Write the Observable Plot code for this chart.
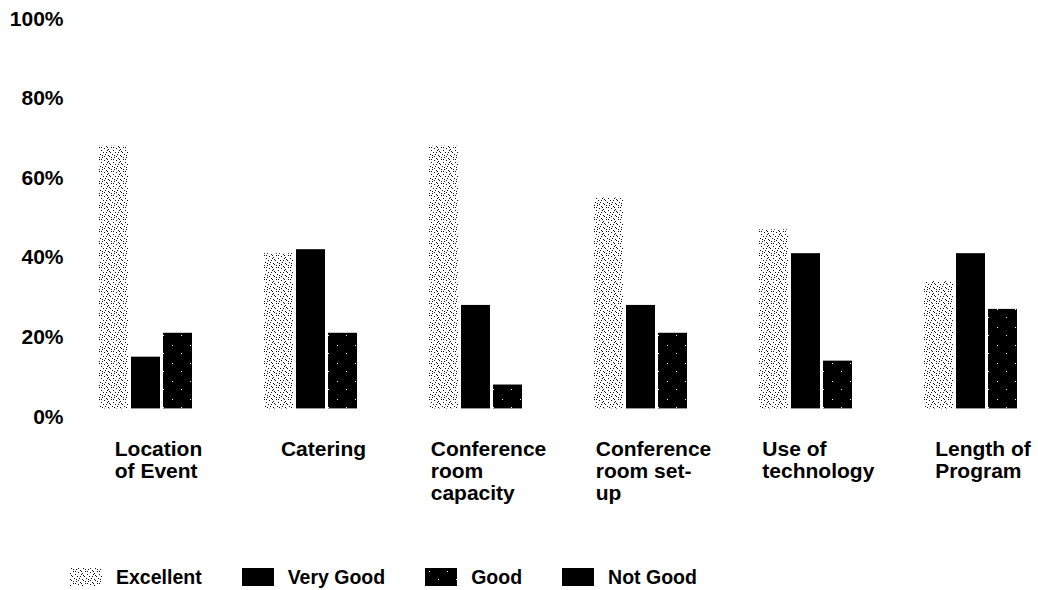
<!DOCTYPE html>
<html><head><meta charset="utf-8">
<script src="https://cdn.jsdelivr.net/npm/d3@7"></script>
<script src="https://cdn.jsdelivr.net/npm/@observablehq/plot@0.6"></script>
<style>
html,body{margin:0;background:#fff;font-family:"Liberation Sans",Arial,sans-serif;color:#000;overflow:hidden;}
#legend{display:flex;align-items:center;height:50px;padding-left:70px;font-weight:bold;font-size:19.5px;}
.item{display:flex;align-items:center;margin-right:40px;position:relative;top:12px;}
.item svg{margin-right:14px;display:block;}
</style></head><body>
<div id="chart"></div><div id="legend"></div>
<script>
const categories = ["Location of Event","Catering","Conference room capacity","Conference room set-up","Use of technology","Length of Program"];
const tickLabels = ["Location\nof Event","Catering","Conference\nroom\ncapacity","Conference\nroom set-\nup","Use of\ntechnology","Length of\nProgram"];
const series = ["Excellent","Very Good","Good","Not Good"];
const excellent = [66,39,66,53,45,32];
const veryGood  = [13,40,26,26,39,39];
const good      = [19,19,6,19,12,25];
const notGood   = [0,0,0,0,0,0];
const yTicks = [0,20,40,60,80,100];

const seriesValues = [excellent, veryGood, good, notGood];
const data = categories.flatMap((c,i)=>series.map((s,j)=>({category:c, series:s, value:seriesValues[j][i]})));
const fills = ["url(#pat-excellent)","#000","url(#pat-good)","#000"];

const chart = Plot.plot({
  width:1038, height:540, marginTop:10.4, marginBottom:131.6, marginLeft:0, marginRight:0,
  style:{fontFamily:'"Liberation Sans", Arial, sans-serif', fontSize:"21px", fontWeight:"bold", background:"#fff", color:"#000"},
  fx:{domain:categories, range:[79.2,1069.2], paddingInner:0.2, paddingOuter:0.1},
  x:{domain:series, padding:0.08, axis:null},
  y:{domain:[0,100]},
  color:{domain:series, range:fills},
  marks:[
    Plot.barY(data,{fx:"category", x:"series", y:"value", fill:"series"}),
    Plot.axisY({ticks:yTicks, tickSize:0, tickPadding:33, dy:8, tickFormat:d=>d+"%", fontSize:21, fontWeight:"bold", label:null}),
    Plot.axisFx({anchor:"bottom", tickSize:0, tickPadding:32, textAnchor:"start", lineAnchor:"top", lineHeight:1.03,
      tickFormat:d=>tickLabels[categories.indexOf(d)], fontSize:21, fontWeight:"bold", label:null})
  ]
});

// texture patterns
const defs = d3.select(chart).insert("defs",":first-child");
const exDots = [[1,0],[6,1],[10,2],[3,3],[8,4],[0,5],[5,6],[11,6],[2,8],[7,8],[9,10],[4,10],[0,11],[6,11],[10,8],[3,1],[8,0],[1,7],[11,3],[5,3]];
const pe = defs.append("pattern").attr("id","pat-excellent").attr("patternUnits","userSpaceOnUse").attr("width",12).attr("height",12);
pe.append("rect").attr("width",12).attr("height",12).attr("fill","#fff");
exDots.forEach(([x,y])=>pe.append("rect").attr("x",x).attr("y",y).attr("width",1).attr("height",1).attr("fill","#111"));
const gDots = [[4,3],[13,11]];
const pg = defs.append("pattern").attr("id","pat-good").attr("patternUnits","userSpaceOnUse").attr("width",18).attr("height",18);
pg.append("rect").attr("width",18).attr("height",18).attr("fill","#000");
gDots.forEach(([x,y])=>pg.append("rect").attr("x",x).attr("y",y).attr("width",1).attr("height",1).attr("fill","#fff"));

document.getElementById("chart").appendChild(chart);

// center each left-aligned label block on its group
d3.select(chart).selectAll('[aria-label="fx-axis tick label"] text').each(function(){
  const w = this.getBBox().width;
  this.setAttribute("transform",(this.getAttribute("transform")||"")+` translate(${-w/2-4},0)`);
});

// legend
const legend = d3.select("#legend");
series.forEach((s,j)=>{
  const it = legend.append("div").attr("class","item");
  it.append("svg").attr("width",32).attr("height",18)
    .append("rect").attr("width",32).attr("height",18).attr("fill",fills[j]);
  it.append("span").text(s);
});
</script>
</body></html>
